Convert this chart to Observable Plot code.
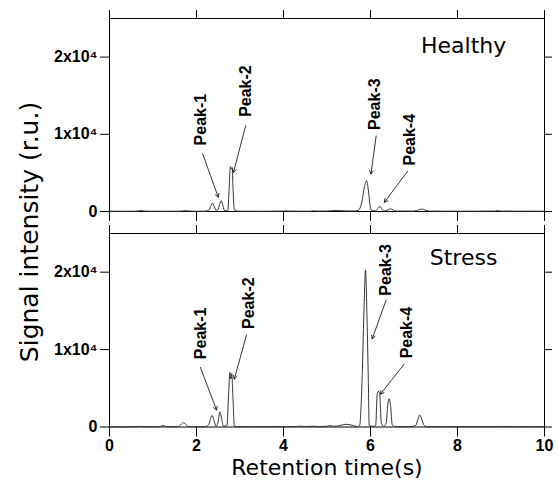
<!DOCTYPE html>
<html><head><meta charset="utf-8">
<script src="https://cdn.jsdelivr.net/npm/d3@7"></script>
<script src="https://cdn.jsdelivr.net/npm/@observablehq/plot@0.6"></script>
<style>
body{margin:0;background:#fff;}
#chart{position:relative;width:558px;height:489px;background:#fff;}
#chart svg{display:block;}
#ylabel{position:absolute;left:29px;top:232px;transform:translate(-50%,-50%) rotate(-90deg);font-family:"DejaVu Sans";font-size:25px;white-space:nowrap;color:#000;}
</style></head><body>
<div id="chart"><div id="ylabel">Signal intensity (r.u.)</div></div>
<script>
// ---- data ----
const xTicks = [0, 2, 4, 6, 8, 10];
const yTicks = [0, 10000, 20000];
const yTickLabels = ["0", "1x10\u2074", "2x10\u2074"];
const panelNames = ["Healthy", "Stress"];
const peakNames = ["Peak-1", "Peak-2", "Peak-3", "Peak-4"];

const healthyTime = [0.0,0.3,0.6,0.68,0.73,0.78,0.85,1.2,1.6,1.72,1.77,1.82,1.95,2.2,2.28,2.33,2.37,2.41,2.45,2.49,2.53,2.57,2.61,2.65,2.72,2.75,2.78,2.80,2.82,2.84,2.87,2.95,3.5,4.0,4.05,4.1,4.6,4.7,4.75,5.0,5.1,5.25,5.4,5.6,5.72,5.80,5.86,5.91,5.95,5.99,6.03,6.12,6.18,6.22,6.26,6.32,6.40,6.46,6.52,6.58,7.0,7.10,7.18,7.26,7.35,8.0,8.85,8.92,9.0,10];
const healthySignal = [50,30,40,80,150,80,40,30,40,80,120,70,30,40,150,700,1100,600,150,200,900,1400,700,100,150,3000,5800,5500,5700,3000,200,40,30,60,90,50,40,90,50,60,110,120,80,60,150,1200,3200,4000,2800,800,100,80,500,650,300,80,200,360,200,60,50,200,310,180,50,40,50,110,50,40];

const stressTime = [0,0.4,0.65,0.69,0.73,1.1,1.19,1.23,1.27,1.35,1.58,1.65,1.70,1.76,1.82,2.2,2.28,2.33,2.36,2.40,2.45,2.49,2.54,2.58,2.62,2.70,2.74,2.77,2.79,2.81,2.84,2.87,3.0,3.75,3.8,3.85,4.3,4.4,4.5,4.7,4.8,5.0,5.08,5.15,5.3,5.44,5.58,5.70,5.75,5.80,5.85,5.885,5.92,5.95,5.97,6.05,6.12,6.15,6.18,6.21,6.25,6.30,6.36,6.40,6.43,6.46,6.50,6.55,6.9,7.04,7.09,7.13,7.18,7.23,7.3,7.6,7.62,7.66,9.15,9.2,9.25,10];
const stressSignal = [30,20,60,100,50,40,120,200,110,40,60,350,560,300,50,40,300,1200,1500,900,100,500,1950,1000,100,200,4500,7050,6200,6900,3500,100,30,40,90,40,60,110,60,100,60,90,180,80,200,350,220,50,200,5000,15000,20300,14000,6000,200,80,200,4000,4650,4300,500,100,500,3000,3650,2800,300,60,40,200,1000,1550,1000,200,40,50,90,40,50,90,40,30];

// label centres and arrows (time, signal)
const healthyLabelT = [2.10, 3.14, 6.10, 6.91];
const healthyLabelV = [11900, 15600, 13900, 9300];
const healthyArrowT1 = [2.14, 3.13, 6.13, 6.85];
const healthyArrowV1 = [7500, 11100, 9800, 5200];
const healthyArrowT2 = [2.50, 2.85, 6.01, 6.32];
const healthyArrowV2 = [1850, 5070, 4860, 1200];

const stressLabelT = [2.09, 3.20, 6.36, 6.84];
const stressLabelV = [12100, 16000, 20300, 12200];
const stressArrowT1 = [2.09, 3.15, 6.36, 6.77];
const stressArrowV1 = [7700, 11900, 16400, 8100];
const stressArrowT2 = [2.46, 2.87, 6.04, 6.23];
const stressArrowV2 = [2200, 6200, 11400, 4250];

const nameT = [8.14, 8.14];
const nameV = [21500, 21900];

// ---- build ----
function series(t, v) { return t.map((d, i) => ({t: d, v: v[i]})); }
function peaks(lt, lv, t1, v1, t2, v2) {
  return peakNames.map((n, i) => ({name: n, lt: lt[i], lv: lv[i], t1: t1[i], v1: v1[i], t2: t2[i], v2: v2[i]}));
}

function panel({data, pk, idx, height, marginTop, marginBottom, bottom}) {
  const marks = [
    Plot.axisX({anchor: "top", ticks: xTicks, tickSize: 9, tickFormat: () => "", label: null}),
    Plot.axisX({anchor: "bottom", ticks: xTicks, tickSize: 10, tickPadding: 3,
      tickFormat: bottom ? (d) => String(d) : () => "", fontSize: 16, fontWeight: "bold", label: null}),
    Plot.axisY({anchor: "left", ticks: yTicks, tickSize: 9, tickPadding: 3,
      tickFormat: (d) => yTickLabels[yTicks.indexOf(d)], fontSize: 16, fontWeight: "bold", label: null}),
    Plot.axisY({anchor: "right", ticks: yTicks, tickSize: 7, tickFormat: () => "", label: null}),
    Plot.frame({stroke: "#000"}),
    Plot.line(data, {x: "t", y: "v", stroke: "#333", strokeWidth: 1, curve: "monotone-x"}),
    Plot.arrow(pk, {x1: "t1", y1: "v1", x2: "t2", y2: "v2", stroke: "#000", strokeWidth: 0.8, headLength: 7}),
    Plot.text(pk, {x: "lt", y: "lv", text: "name", rotate: -90, fontSize: 16, fontWeight: "bold", fill: "#000"}),
    Plot.text([panelNames[idx]], {x: () => nameT[idx], y: () => nameV[idx], text: (d) => d,
      fontSize: 22, fontWeight: "normal", fontFamily: "DejaVu Sans", fill: "#000"})
  ];
  if (bottom) {
    marks.push(Plot.text(["Retention time(s)"], {frameAnchor: "bottom", dy: 41, lineAnchor: "middle", text: (d) => d,
      fontSize: 22, fontWeight: "normal", fontFamily: "DejaVu Sans", fill: "#000"}));
  }
  return Plot.plot({
    width: 558, height, marginLeft: 109, marginRight: 14, marginTop, marginBottom,
    style: {fontFamily: "Liberation Sans, Arial, sans-serif", fontSize: "16px", fontWeight: "bold", background: "white", color: "black"},
    x: {domain: [0, 10]},
    y: {domain: [0, 25000]},
    marks
  });
}

const chart = document.getElementById("chart");
chart.appendChild(panel({
  data: series(healthyTime, healthySignal),
  pk: peaks(healthyLabelT, healthyLabelV, healthyArrowT1, healthyArrowV1, healthyArrowT2, healthyArrowV2),
  idx: 0, height: 222, marginTop: 18, marginBottom: 11, bottom: false
}));
chart.appendChild(panel({
  data: series(stressTime, stressSignal),
  pk: peaks(stressLabelT, stressLabelV, stressArrowT1, stressArrowV1, stressArrowT2, stressArrowV2),
  idx: 1, height: 267, marginTop: 11, marginBottom: 62.5, bottom: true
}));
</script>
</body></html>
